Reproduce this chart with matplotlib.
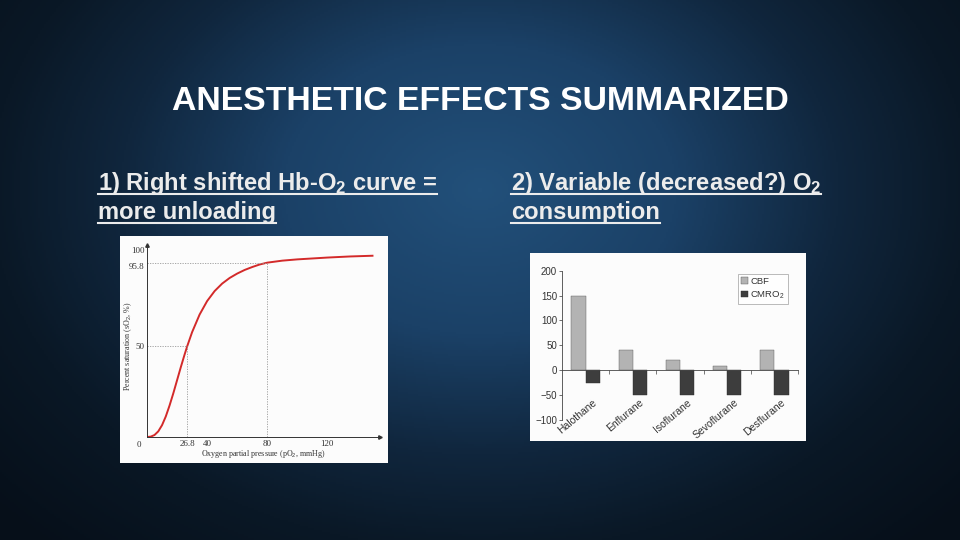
import numpy as np
import matplotlib.pyplot as plt
from matplotlib.colors import LinearSegmentedColormap

plt.rcParams['font.family'] = ['Liberation Sans', 'DejaVu Sans']
plt.rcParams['mathtext.fontset'] = 'custom'
plt.rcParams['mathtext.rm'] = 'Liberation Sans'
plt.rcParams['mathtext.bf'] = 'Liberation Sans:bold'

# oxygen dissociation curve
po2 = [0, 2.5, 5, 7.5, 10, 12.5, 15, 17.5, 20, 22.5, 25, 26.8, 30, 35, 40, 45, 50,
       55, 60, 65, 70, 75, 80, 90, 100, 120, 135, 150]
sat = [0, 0.2, 1.1, 3.1, 6.5, 11.3, 17.3, 24.0, 31.2, 38.4, 45.3, 50, 57.6, 67.3, 74.7,
       80.2, 84.3, 87.4, 89.8, 91.8, 93.4, 94.8, 95.8, 96.9, 97.6, 98.6, 99.2, 99.6]
p50 = 26.8
p_ref = 80
s_ref = 95.8

# anesthetic bars
agents = ['Halothane', 'Enflurane', 'Isoflurane', 'Sevoflurane', 'Desflurane']
cbf = [150, 40, 20, 8, 40]
cmro2 = [-25, -50, -50, -50, -50]

W, H = 960, 540
fig = plt.figure(figsize=(9.6, 5.4), dpi=100)

# background gradient
bg = fig.add_axes([0, 0, 1, 1])
yy, xx = np.mgrid[0:1:270j, 0:1:480j]
d = np.sqrt(((xx - 0.5) * 1.25) ** 2 + ((yy - 0.35) * 0.95) ** 2)
cmap = LinearSegmentedColormap.from_list(
    'bg', [(0, '#22507a'), (0.3, '#1b4167'), (0.55, '#10263d'), (0.75, '#0a1826'),
           (1, '#060f19')])
bg.imshow(d, cmap=cmap, aspect='auto', extent=[0, 1, 1, 0], vmin=0, vmax=0.85)
bg.set_xlim(0, 1)
bg.set_ylim(1, 0)
bg.axis('off')

fig.text(0.5, 1 - 101 / H, 'ANESTHETIC EFFECTS SUMMARIZED', color='white',
         fontsize=24.3, ha='center', va='center', fontweight='bold')

heads = [
    (98, 190, r'1) Right shifted Hb-O$\mathbf{_2}$ curve ='),
    (98, 219, 'more unloading'),
    (511, 190, r'2) Variable (decreased?) O$\mathbf{_2}$'),
    (511, 219, 'consumption'),
]
htexts = []
for x, y, s in heads:
    t = fig.text(x / W, 1 - y / H, s, color='#ececec', fontsize=17.1,
                 ha='left', va='baseline', fontweight='bold')
    htexts.append((t, y))
fig.canvas.draw()
r = fig.canvas.get_renderer()
for t, y in htexts:
    bb = t.get_window_extent(r)
    uy = (y + 3.5) / H
    bg.plot([bb.x0 / W, bb.x1 / W], [uy, uy], color='#ececec', lw=1.5)

# left white panel
p1 = fig.add_axes([120 / W, 77 / H, 268 / W, 227 / H])
p1.set_facecolor('#fcfcfc')
p1.set_xticks([])
p1.set_yticks([])
for s in p1.spines.values():
    s.set_visible(False)

serif = 'Liberation Serif'
ax1 = fig.add_axes([147 / W, 103 / H, 233 / W, 192 / H])
ax1.set_facecolor('none')
ax1.plot(po2, sat, color='#d32a2a', lw=1.4)
gs = dict(color='#999999', lw=0.6, ls=(0, (1.5, 1.5)))
ax1.plot([0, p50], [50, 50], **gs)
ax1.plot([p50, p50], [0, 50], **gs)
ax1.plot([0, p_ref], [s_ref, s_ref], **gs)
ax1.plot([p_ref, p_ref], [0, s_ref], **gs)
ax1.set_xlim(0, 155)
ax1.set_ylim(0, 105.5)
for s in ['top', 'right']:
    ax1.spines[s].set_visible(False)
for s in ['left', 'bottom']:
    ax1.spines[s].set_linewidth(0.7)
    ax1.spines[s].set_color('#333333')
ax1.plot(1, 0, '>', color='#333333', ms=2.5, transform=ax1.transAxes, clip_on=False)
ax1.plot(0, 1, '^', color='#333333', ms=2.5, transform=ax1.transAxes, clip_on=False)
ax1.set_xticks([p50, 40, p_ref, 120])
ax1.set_xticklabels(['26.8', '40', '80', '120'])
ax1.set_yticks([50, s_ref, 100])
ax1.set_yticklabels(['50', '95.8', '100'])
ax1.tick_params(length=0, labelsize=6.5, colors='#333333', pad=2)
for lab in ax1.get_xticklabels() + ax1.get_yticklabels():
    lab.set_family(serif)
ax1.get_yticklabels()[1].set_va('top')
ax1.get_yticklabels()[2].set_va('bottom')
ax1.text(-4, -2, '0', fontsize=6.5, family=serif, color='#333333',
         ha='right', va='top')
ax1.text(0.5, -0.055, r'Oxygen partial pressure (pO$_2$, mmHg)', fontsize=5.8,
         family=serif, color='#333333', ha='center', va='top',
         transform=ax1.transAxes)
ax1.text(-0.055, 0.47, r'Percent saturation (sO$_2$, %)', fontsize=5.8,
         family=serif, color='#333333', ha='center', va='bottom', rotation=90,
         rotation_mode='anchor', transform=ax1.transAxes)

# right white panel
p2 = fig.add_axes([530 / W, 99 / H, 276 / W, 188 / H])
p2.set_facecolor('#fcfcfc')
p2.set_xticks([])
p2.set_yticks([])
for s in p2.spines.values():
    s.set_visible(False)

ax2 = fig.add_axes([562 / W, 120 / H, 236 / W, 149.3 / H])
ax2.set_facecolor('none')
x = np.arange(len(agents))
bw = 0.3
ax2.bar(x - bw / 2, cbf, bw, color='#b3b3b3', edgecolor='#555555', lw=0.3, label='CBF')
ax2.bar(x + bw / 2, cmro2, bw, color='#3d3d3d', edgecolor='#2a2a2a', lw=0.3,
        label=r'CMRO$_2$')
ax2.set_xlim(-0.5, len(agents) - 0.5)
ax2.set_ylim(-100, 200)
ax2.set_yticks([-100, -50, 0, 50, 100, 150, 200])
ax2.set_yticklabels(['\u2212100', '\u221250', '0', '50', '100', '150', '200'])
for s in ['top', 'right']:
    ax2.spines[s].set_visible(False)
ax2.spines['bottom'].set_position(('data', 0))
for s in ['left', 'bottom']:
    ax2.spines[s].set_linewidth(0.6)
    ax2.spines[s].set_color('#444444')
ax2.set_xticks(x + 0.5)
ax2.set_xticklabels([])
ax2.tick_params(axis='x', direction='out', length=3, width=0.5, colors='#444444')
ax2.tick_params(axis='y', direction='out', length=2, width=0.5, labelsize=7,
                colors='#333333', pad=1.5)
for i, name in enumerate(agents):
    ax2.text(i + 0.14, -54, name, rotation=40, rotation_mode='anchor', ha='right',
             va='top', fontsize=7.5, color='#333333')
leg = ax2.legend(loc='upper right', fontsize=6.8, frameon=True, fancybox=False,
                 edgecolor='#888888', handlelength=0.7, handleheight=0.7,
                 handletextpad=0.3, borderpad=0.35, labelspacing=0.35,
                 borderaxespad=0.3, bbox_to_anchor=(0.97, 1.0))
leg.get_frame().set_linewidth(0.5)
for t in leg.get_texts():
    t.set_color('#333333')

fig.savefig('out.png', dpi=100)
